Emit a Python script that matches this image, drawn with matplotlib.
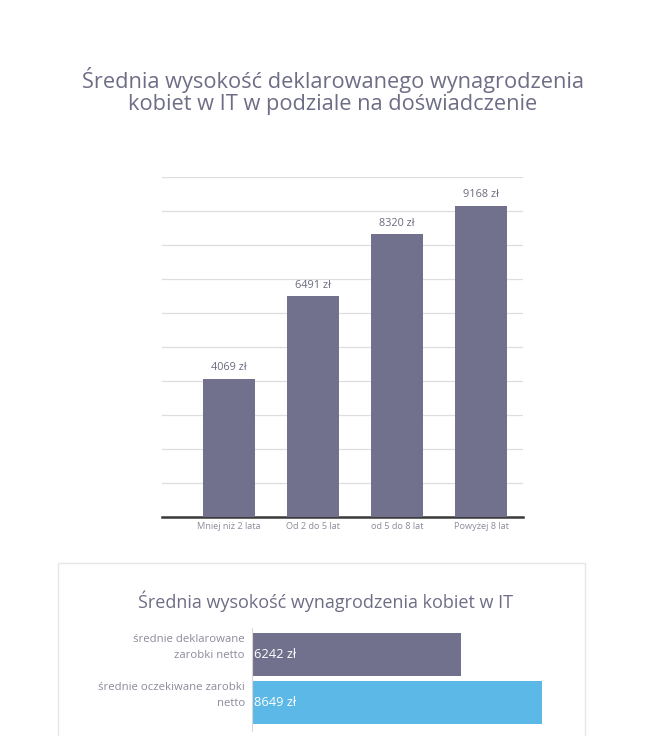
import matplotlib.pyplot as plt
from matplotlib.patches import Rectangle

plt.rcParams['font.family'] = ['Open Sans', 'DejaVu Sans']

# top chart data
exp_labels = ['Mniej niż 2 lata', 'Od 2 do 5 lat', 'od 5 do 8 lat', 'Powyżej 8 lat']
exp_values = [4069, 6491, 8320, 9168]

# bottom chart data
sal_labels = ['średnie deklarowane\nzarobki netto', 'średnie oczekiwane zarobki\nnetto']
sal_values = [6242, 8649]

purple = '#72718d'
blue = '#5cb8e6'
title_col = '#6e6d86'
label_col = '#8c8b9c'

fig = plt.figure(figsize=(6.65, 7.36), dpi=100)

fig.text(0.5, 1 - 91 / 736, 'Średnia wysokość deklarowanego wynagrodzenia\nkobiet w IT w podziale na doświadczenie',
         ha='center', va='center', fontsize=15.7, color=title_col, linespacing=1.1, fontweight='medium')

ax = fig.add_axes([0.2432, 0.298, 0.5429, 0.4611])
x = range(len(exp_values))
ax.bar(x, exp_values, width=0.615, color=purple, zorder=3)
for xi, v in zip(x, exp_values):
    ax.text(xi, v + 150, f'{v} zł', ha='center', va='bottom', fontsize=7.8, color='#6b6a80')
ax.set_ylim(0, 10000)
ax.set_xlim(-0.8, 3.494)
ax.set_yticks(range(0, 10001, 1000))
ax.yaxis.grid(True, color='#dedede', linewidth=0.9, zorder=0)
ax.tick_params(axis='y', length=0, labelleft=False)
ax.tick_params(axis='x', length=0, pad=4, labelsize=6.6, labelcolor=label_col)
ax.set_xticks(list(x))
ax.set_xticklabels(exp_labels)
for s in ['top', 'right', 'left']:
    ax.spines[s].set_visible(False)
ax.spines['bottom'].set_color('#3a3a3a')
ax.spines['bottom'].set_linewidth(1.8)

# box around the second chart
fig.add_artist(Rectangle((0.0872, -0.02), 0.7925, 0.255, transform=fig.transFigure,
                         facecolor='none', edgecolor='#e6e6e6', linewidth=1, zorder=-1))
fig.text(326 / 665, 1 - 601 / 736, 'Średnia wysokość wynagrodzenia kobiet w IT',
         ha='center', va='center', fontsize=13, color=title_col, fontweight='medium')

ax2 = fig.add_axes([0.3786, 0.0072, 0.5047, 0.1395])
ax2.patch.set_alpha(0)
y = range(len(sal_values))
ax2.barh(y, sal_values, height=0.9, color=[purple, blue])
for yi, v, lab in zip(y, sal_values, sal_labels):
    ax2.text(80, yi, f'{v} zł', ha='left', va='center', fontsize=9.3, color='white')
    ax2.annotate(lab, xy=(0, yi), xytext=(-5, 5), textcoords='offset points',
                 ha='right', va='center', multialignment='right',
                 fontsize=8.2, color=label_col, linespacing=1.6, annotation_clip=False)
ax2.set_xlim(0, 10000)
ax2.set_ylim(1.587, -0.544)
ax2.set_yticks([])
ax2.set_xticks([])
for s in ['top', 'right', 'bottom']:
    ax2.spines[s].set_visible(False)
ax2.spines['left'].set_color('#d8d8d8')
ax2.spines['left'].set_linewidth(0.8)

fig.savefig('out.png', dpi=100, facecolor='white')
